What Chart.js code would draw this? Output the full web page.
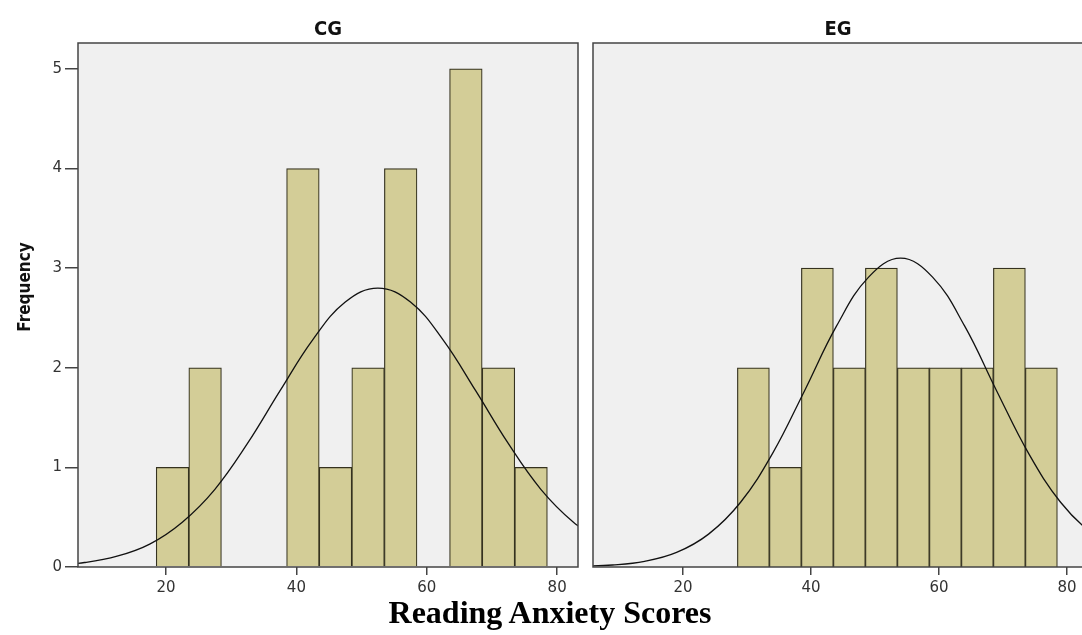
<!DOCTYPE html>
<html>
<head>
<meta charset="utf-8">
<script src="https://cdn.jsdelivr.net/npm/chart.js@4/dist/chart.umd.min.js"></script>
<style>
  html, body { margin:0; padding:0; background:#fff; width:1082px; height:635px; overflow:hidden; }
  #wrap { position:relative; width:1082px; height:635px; overflow:hidden; }
  canvas { position:absolute; top:0; }
  .lbl { position:absolute; white-space:nowrap; text-align:center; color:#111; }
  .panelTitle { font-family:"Liberation Sans Narrow","Arial Narrow","DejaVu Sans Condensed",sans-serif; font-weight:bold; font-size:20px; line-height:20px; width:200px; }
</style>
</head>
<body>
<div id="wrap">
  <canvas id="c1"></canvas>
  <canvas id="c2"></canvas>
  <div class="lbl panelTitle" style="left:228px; top:18px;">CG</div>
  <div class="lbl panelTitle" style="left:738px; top:18px;">EG</div>
  <div class="lbl" style="left:-26px; top:277px; width:100px; line-height:20px; font-family:'Liberation Sans Narrow','Arial Narrow','DejaVu Sans Condensed',sans-serif; font-weight:bold; font-size:17px; transform:rotate(-90deg);">Frequency</div>
  <div class="lbl" style="left:290px; top:594px; width:520px; line-height:36px; font-family:'Liberation Serif','Times New Roman',serif; font-weight:bold; font-size:32px; color:#000;">Reading Anxiety Scores</div>
</div>
<script>
// ---- Data ----
const cgBinCenters = [21, 26, 41, 46, 51, 56, 66, 71, 76];
const cgCounts     = [1, 2, 4, 1, 2, 4, 5, 2, 1];
const egBinCenters = [31, 36, 41, 46, 51, 56, 61, 66, 71, 76];
const egCounts     = [2, 1, 3, 2, 3, 2, 2, 2, 3, 2];

// fitted normal curves
const cgCurveX = [2.5, 7.5, 12.5, 17.5, 22.5, 27.5, 32.5, 37.5, 42.5, 47.5, 52.5, 57.5, 62.5, 67.5, 72.5, 77.5, 82.5, 87.5];
const cgCurveY = [0.017, 0.045, 0.108, 0.23, 0.45, 0.78, 1.24, 1.77, 2.28, 2.66, 2.80, 2.66, 2.28, 1.77, 1.24, 0.78, 0.45, 0.23];
const egCurveX = [4, 9, 14, 19, 24, 29, 34, 39, 44, 49, 54, 59, 64, 69, 74, 79, 84, 89];
const egCurveY = [0.007, 0.02, 0.057, 0.146, 0.33, 0.65, 1.14, 1.77, 2.42, 2.91, 3.10, 2.91, 2.42, 1.77, 1.14, 0.65, 0.33, 0.146];

const yTicks = [0, 1, 2, 3, 4, 5];
const xTicks = [20, 40, 60, 80];

const panelPlugin = {
  id: 'panelBg',
  beforeDraw(chart) {
    const { ctx, chartArea: a } = chart;
    ctx.save();
    ctx.fillStyle = '#f0f0f0';
    ctx.fillRect(a.left, a.top, a.right - a.left, a.bottom - a.top);
    ctx.restore();
  },
  afterDraw(chart) {
    const { ctx, chartArea: a } = chart;
    ctx.save();
    ctx.strokeStyle = '#444';
    ctx.lineWidth = 1.5;
    ctx.strokeRect(a.left, a.top, a.right - a.left, a.bottom - a.top);
    ctx.restore();
  }
};

function pts(xs, ys) { return xs.map((x, i) => ({ x: x, y: ys[i] })); }

function makeChart(id, cfg) {
  const cv = document.getElementById(id);
  cv.width = cfg.w; cv.height = 635;
  cv.style.width = cfg.w + 'px'; cv.style.height = '635px';
  cv.style.left = cfg.left + 'px';
  return new Chart(cv, {
    type: 'bar',
    data: {
      datasets: [
        {
          type: 'line',
          data: pts(cfg.curveX, cfg.curveY),
          borderColor: '#111',
          borderWidth: 1.3,
          pointRadius: 0,
          fill: false,
          tension: 0.4,
          order: 0
        },
        {
          type: 'bar',
          data: pts(cfg.centers, cfg.counts),
          backgroundColor: '#d3cd97',
          borderColor: '#35321f',
          borderWidth: 1.2,
          barPercentage: 1,
          categoryPercentage: 1,
          order: 1
        }
      ]
    },
    options: {
      responsive: false,
      animation: false,
      events: [],
      layout: { padding: { left: cfg.padLeft, right: cfg.padRight, top: 43, bottom: 0 } },
      plugins: { legend: { display: false }, title: { display: false }, tooltip: { enabled: false } },
      scales: {
        x: {
          type: 'linear',
          min: cfg.xmin, max: cfg.xmax,
          offset: false,
          afterBuildTicks: (s) => { s.ticks = xTicks.map(v => ({ value: v })); },
          afterFit: (s) => { s.height = 68; },
          border: { display: false },
          grid: { offset: false, drawOnChartArea: false, drawTicks: true, tickLength: 8, color: '#444', lineWidth: 1.5 },
          ticks: { padding: 4, color: '#333', font: { family: 'DejaVu Sans', size: 15 }, maxRotation: 0 }
        },
        y: {
          display: cfg.showY,
          min: 0, max: 5.26,
          afterBuildTicks: (s) => { s.ticks = yTicks.map(v => ({ value: v })); },
          afterFit: (s) => { s.width = cfg.showY ? 78 : 0; },
          border: { display: false },
          grid: { drawOnChartArea: false, drawTicks: true, tickLength: 13, color: '#444', lineWidth: 1.5 },
          ticks: { padding: 3, color: '#333', font: { family: 'DejaVu Sans', size: 15 } }
        }
      }
    },
    plugins: [panelPlugin]
  });
}

makeChart('c1', { left: 0, w: 590, padLeft: 0, padRight: 12, showY: true,
  xmin: 6.5, xmax: 83.2, centers: cgBinCenters, counts: cgCounts, curveX: cgCurveX, curveY: cgCurveY });
makeChart('c2', { left: 583, w: 511, padLeft: 10, padRight: 10, showY: false,
  xmin: 5.94, xmax: 82.66, centers: egBinCenters, counts: egCounts, curveX: egCurveX, curveY: egCurveY });
</script>
</body>
</html>
